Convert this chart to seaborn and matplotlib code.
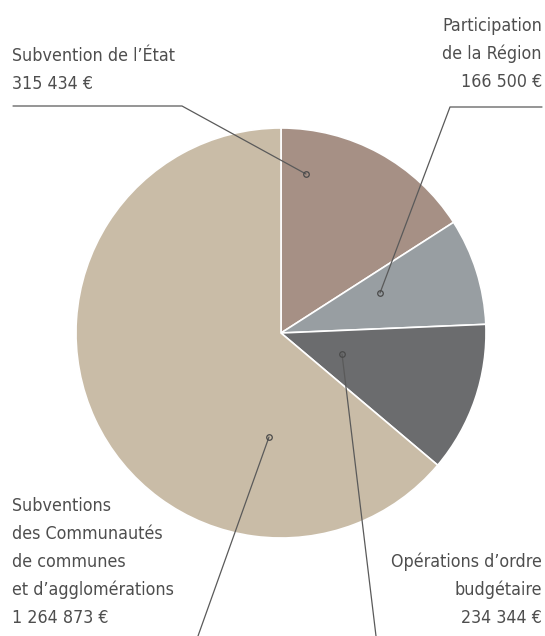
import matplotlib.pyplot as plt
import seaborn as sns

# financement - recettes
postes = ["Subvention de l’État", "Participation\nde la Région",
          "Opérations d’ordre\nbudgétaire",
          "Subventions\ndes Communautés\nde communes\net d’agglomérations"]
montants = [315434, 166500, 234344, 1264873]
couleurs = ["#a69085", "#989ea2", "#6b6c6e", "#c9bca7"]


def euros(v):
    return f"{v:,}".replace(",", " ") + " €"


sns.set_theme(style="white")
plt.rcParams['font.family'] = ['DejaVu Sans']
plt.rcParams['font.stretch'] = 'condensed'

fig = plt.figure(figsize=(5.45, 6.36), dpi=100)
ax = fig.add_axes([0, 0, 1, 1])

# pie in pixel coordinates (y pointing down)
ax.pie(montants, colors=couleurs, center=(281, 333), radius=205,
       startangle=-90, counterclock=True,
       wedgeprops=dict(edgecolor="white", linewidth=1.2))
ax.set_xlim(0, 545)
ax.set_ylim(636, 0)
ax.set_aspect("auto")
ax.axis("off")


def label(x, y_last, texte, ha):
    # one text per line, baselines 28 px apart, last line at y_last
    lignes = texte.split("\n")
    for i, l in enumerate(lignes):
        y = y_last - 28 * (len(lignes) - 1 - i)
        ax.text(x, y, l, ha=ha, va="baseline", color="#4e4e4e",
                fontsize=12.8, fontstretch="condensed")


for i, (x, y, ha) in enumerate([(12, 89, "left"), (542, 87, "right"),
                                 (542, 623, "right"), (12, 623, "left")]):
    label(x, y, postes[i] + "\n" + euros(montants[i]), ha)

# leader lines
lc = dict(color="#5a5a5a", lw=0.9)
ax.plot([13, 182, 306], [106, 106, 174], **lc)
ax.plot([542, 450, 380], [107, 107, 293], **lc)
ax.plot([342, 376], [354, 636], **lc)
ax.plot([269, 198], [437, 636], **lc)
for x, y in [(306, 174), (380, 293), (342, 354), (269, 437)]:
    ax.plot(x, y, marker="o", ms=4, mfc="none", mec="#4a4a4a", mew=0.9)

fig.savefig("out.png", dpi=100)
